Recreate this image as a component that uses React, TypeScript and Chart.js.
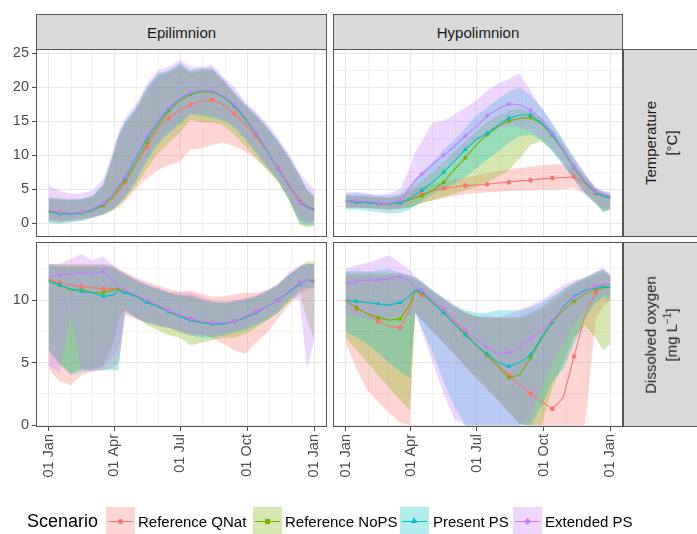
import React, { useEffect, useRef } from "react";
import { Chart, registerables } from "chart.js";

Chart.register(...registerables);

// ---------------- data ----------------
const days = [0, 15, 30, 45, 60, 75, 88, 96, 105, 120, 135, 150, 165, 180, 195, 210, 225, 240, 255, 270, 285, 300, 315, 330, 345, 355, 365];
const markerDays = [15, 45, 75, 105, 135, 165, 195, 225, 255, 285, 315, 345];
const monthStarts = [0, 31, 59, 90, 120, 151, 181, 212, 243, 273, 304, 334, 365];
const dateTicks = [0, 90, 181, 273, 365];
const dateLabels = ["01 Jan", "01 Apr", "01 Jul", "01 Oct", "01 Jan"];
const tempTickVals = [0, 2.5, 5, 7.5, 10, 12.5, 15, 17.5, 20, 22.5, 25];
const oxyTickVals = [0, 2.5, 5, 7.5, 10, 12.5];
const columns = ["Epilimnion", "Hypolimnion"];
const scenarios = ["Reference QNat", "Reference NoPS", "Present PS", "Extended PS"];
const colors = ["#F8766D", "#7CAE00", "#00BFC4", "#C77CFF"];
const shapes = ["circle", "rect", "triangle", "rectRot"];

// Epilimnion temperature
const epiTempQNatMid = [1.8, 1.6, 1.5, 1.6, 1.9, 2.6, 3.6, 4.6, 6.0, 8.7, 11.2, 13.8, 15.5, 16.6, 17.4, 18.0, 18.1, 17.4, 16.1, 14.6, 12.8, 10.6, 8.2, 5.8, 3.3, 2.5, 2.0];
const epiTempQNatLo = [0.5, 0.4, 0.5, 0.7, 1.0, 1.3, 1.8, 2.3, 3.2, 5.0, 6.5, 7.8, 8.5, 9.0, 10.8, 11.0, 11.5, 11.8, 11.3, 10.5, 9.4, 8.0, 6.3, 3.5, 0.5, 0.2, 0.2];
const epiTempQNatHi = [3.6, 3.4, 3.3, 3.4, 3.8, 5.5, 9.5, 12.5, 14.5, 16.5, 19.5, 21.5, 22.0, 23.0, 22.0, 22.3, 22.5, 20.8, 19.0, 17.2, 15.8, 14.0, 12.0, 9.5, 6.8, 4.8, 3.8];
const epiTempNoPSMid = [1.6, 1.4, 1.4, 1.5, 1.8, 2.6, 3.8, 5.0, 6.2, 8.8, 11.8, 14.3, 16.5, 18.0, 18.9, 19.3, 19.3, 18.5, 17.2, 15.3, 13.1, 10.6, 8.0, 5.5, 3.0, 2.3, 1.9];
const epiTempNoPSLo = [0.2, 0.1, 0.3, 0.5, 0.8, 1.2, 1.9, 2.7, 3.5, 5.5, 8.0, 10.2, 11.8, 13.2, 15.2, 14.8, 14.8, 14.4, 13.0, 11.3, 9.6, 7.8, 6.0, 3.3, -0.3, -0.6, -0.5];
const epiTempNoPSHi = [3.7, 3.5, 3.4, 3.5, 3.9, 5.6, 9.8, 12.8, 14.8, 16.8, 19.8, 21.8, 22.3, 23.3, 22.3, 22.6, 22.6, 21.0, 19.1, 17.3, 15.8, 14.0, 12.0, 9.6, 6.8, 4.8, 3.8];
const epiTempPresentMid = [1.7, 1.4, 1.3, 1.5, 1.9, 2.8, 4.2, 5.4, 6.6, 9.5, 12.5, 14.8, 16.8, 18.3, 19.1, 19.5, 19.4, 18.6, 17.3, 15.4, 13.2, 10.7, 8.0, 5.5, 3.0, 2.4, 2.0];
const epiTempPresentLo = [0.0, -0.1, 0.1, 0.3, 0.7, 1.3, 2.0, 2.8, 3.8, 6.2, 9.2, 11.5, 13.2, 14.5, 16.0, 15.8, 15.5, 15.0, 14.0, 12.3, 10.3, 8.3, 6.3, 3.5, 0.0, -0.4, -0.3];
const epiTempPresentHi = [3.8, 3.6, 3.5, 3.6, 4.0, 5.8, 10.0, 13.0, 15.0, 17.0, 20.0, 22.0, 22.5, 23.5, 22.5, 22.8, 22.8, 21.2, 19.3, 17.5, 16.0, 14.2, 12.2, 9.8, 7.0, 5.0, 4.0];
const epiTempExtendedMid = [1.9, 1.6, 1.5, 1.6, 2.0, 2.9, 4.3, 5.5, 6.8, 9.8, 12.8, 15.0, 17.0, 18.4, 19.2, 19.5, 19.5, 18.7, 17.5, 15.6, 13.3, 10.8, 8.1, 5.6, 2.9, 2.2, 1.8];
const epiTempExtendedLo = [0.3, 0.2, 0.3, 0.4, 0.8, 1.4, 2.2, 3.0, 4.0, 6.5, 9.5, 11.8, 13.5, 14.8, 16.2, 16.0, 15.8, 15.3, 14.2, 12.5, 10.5, 8.5, 6.5, 3.8, 0.5, 0.0, 0.2];
const epiTempExtendedHi = [5.5, 4.8, 4.3, 4.3, 4.8, 6.5, 10.5, 13.5, 15.5, 17.5, 20.5, 22.5, 23.0, 24.0, 23.0, 23.0, 23.3, 21.5, 20.0, 17.8, 16.4, 14.6, 12.6, 10.2, 7.4, 6.0, 5.0];

// Hypolimnion temperature
const hypoTempQNatMid = [3.2, 3.1, 3.0, 2.9, 2.8, 3.0, 3.4, 3.8, 4.2, 4.8, 5.1, 5.3, 5.5, 5.6, 5.7, 5.9, 6.0, 6.2, 6.3, 6.5, 6.6, 6.7, 6.8, 5.8, 4.4, 4.0, 3.7];
const hypoTempQNatLo = [2.3, 2.3, 2.2, 2.1, 2.0, 2.1, 2.3, 2.6, 2.9, 3.3, 3.7, 4.0, 4.2, 4.4, 4.5, 4.6, 4.7, 4.8, 4.8, 4.9, 4.9, 5.0, 5.2, 4.2, 2.8, 1.8, 2.0];
const hypoTempQNatHi = [4.0, 4.0, 3.9, 3.8, 3.7, 4.0, 4.5, 5.0, 5.3, 5.8, 6.1, 6.4, 6.7, 7.0, 7.3, 7.6, 7.9, 8.1, 8.3, 8.5, 8.6, 8.7, 8.2, 6.8, 5.0, 4.5, 4.0];
const hypoTempNoPSMid = [3.2, 3.1, 3.0, 2.9, 2.8, 3.0, 3.4, 3.7, 4.0, 4.8, 6.0, 7.9, 9.6, 11.5, 13.0, 14.2, 15.0, 15.4, 15.5, 14.6, 12.9, 10.6, 8.1, 6.0, 4.4, 4.0, 3.7];
const hypoTempNoPSLo = [2.3, 2.3, 2.2, 2.1, 2.0, 2.1, 2.3, 2.6, 3.0, 3.4, 3.8, 4.3, 4.8, 5.3, 6.0, 6.8, 7.8, 9.5, 11.5, 12.0, 10.8, 8.8, 6.5, 4.5, 3.0, 1.8, 2.0];
const hypoTempNoPSHi = [4.0, 4.0, 3.9, 3.8, 3.7, 4.0, 4.8, 5.5, 6.2, 7.5, 9.0, 10.5, 12.0, 13.5, 14.8, 15.8, 16.5, 16.8, 16.5, 15.5, 13.8, 11.5, 9.0, 6.8, 5.0, 4.3, 4.0];
const hypoTempPresentMid = [3.2, 3.1, 3.0, 2.9, 2.8, 3.0, 3.6, 4.2, 4.8, 6.0, 7.5, 9.1, 10.8, 12.3, 13.2, 14.4, 15.4, 15.9, 15.9, 14.8, 13.0, 10.7, 8.2, 6.1, 4.5, 4.0, 3.7];
const hypoTempPresentLo = [2.0, 2.0, 1.8, 1.6, 1.4, 1.5, 2.0, 2.5, 3.2, 4.3, 5.0, 5.8, 6.8, 8.0, 9.3, 10.5, 11.8, 12.8, 13.0, 12.2, 10.5, 8.5, 6.3, 4.3, 2.8, 1.5, 2.0];
const hypoTempPresentHi = [4.3, 4.4, 4.2, 4.0, 4.0, 4.3, 5.5, 6.5, 7.5, 9.0, 10.8, 12.2, 14.0, 15.8, 17.0, 18.2, 19.3, 20.0, 18.8, 17.0, 14.8, 12.2, 9.6, 7.2, 5.2, 4.6, 4.4];
const hypoTempExtendedMid = [3.3, 3.3, 3.2, 3.0, 2.9, 3.3, 5.0, 6.3, 7.2, 8.6, 10.0, 11.3, 12.8, 14.1, 15.8, 16.8, 17.5, 17.4, 16.6, 15.2, 13.2, 10.8, 8.2, 6.2, 4.6, 4.3, 4.0];
const hypoTempExtendedLo = [2.2, 2.3, 2.2, 2.1, 2.0, 2.2, 3.0, 3.8, 4.8, 6.3, 7.8, 9.2, 10.8, 12.0, 13.0, 13.8, 14.3, 14.2, 13.5, 12.5, 10.8, 8.7, 6.5, 4.5, 3.0, 2.2, 2.2];
const hypoTempExtendedHi = [4.5, 4.6, 4.4, 4.2, 4.3, 5.0, 8.0, 10.5, 12.0, 14.8, 15.0, 16.0, 17.0, 18.0, 19.5, 20.5, 21.2, 22.0, 19.5, 16.8, 14.5, 12.0, 9.6, 7.3, 5.2, 4.8, 4.5];

// Epilimnion dissolved oxygen
const epiOxyQNatMid = [11.7, 11.4, 11.2, 11.1, 11.0, 10.9, 10.9, 10.9, 10.7, 10.35, 9.9, 9.6, 9.2, 8.8, 8.5, 8.3, 8.2, 8.2, 8.3, 8.7, 9.1, 9.5, 10.0, 10.7, 11.4, 11.6, 11.6];
const epiOxyQNatLo = [4.5, 3.5, 3.2, 4.0, 4.3, 4.4, 4.6, 5.0, 8.8, 8.5, 8.2, 7.9, 7.8, 7.4, 7.2, 7.3, 7.0, 6.5, 6.0, 5.7, 6.6, 7.4, 8.5, 9.6, 10.5, 10.8, 11.0];
const epiOxyQNatHi = [12.9, 12.9, 12.9, 12.9, 12.9, 12.9, 12.8, 12.5, 12.2, 11.8, 11.5, 11.2, 10.9, 10.7, 10.8, 10.5, 10.3, 10.3, 10.5, 10.6, 10.6, 10.8, 11.3, 12.1, 12.7, 12.9, 12.9];
const epiOxyNoPSMid = [11.6, 11.2, 10.8, 10.8, 10.6, 10.6, 10.8, 10.9, 10.7, 10.3, 9.9, 9.5, 9.1, 8.7, 8.4, 8.2, 8.1, 8.1, 8.3, 8.6, 9.0, 9.5, 10.0, 10.7, 11.3, 11.6, 11.5];
const epiOxyNoPSLo = [6.0, 4.8, 4.2, 4.5, 4.5, 4.8, 6.5, 8.5, 9.2, 8.6, 8.0, 7.6, 7.2, 7.0, 6.4, 6.6, 6.8, 7.0, 7.0, 7.3, 7.8, 8.4, 9.0, 9.8, 10.6, 8.5, 6.8];
const epiOxyNoPSHi = [12.8, 12.8, 12.8, 12.8, 12.8, 12.8, 12.7, 12.4, 12.1, 11.6, 11.2, 10.9, 10.6, 10.4, 10.4, 10.1, 9.9, 9.8, 9.9, 10.1, 10.3, 10.7, 11.2, 12.0, 12.7, 13.1, 13.1];
const epiOxyPresentMid = [11.5, 11.2, 10.9, 10.7, 10.6, 10.3, 10.4, 10.8, 10.6, 10.3, 9.8, 9.5, 9.1, 8.7, 8.4, 8.2, 8.1, 8.1, 8.3, 8.6, 9.0, 9.5, 10.0, 10.6, 11.3, 11.6, 11.5];
const epiOxyPresentLo = [6.0, 5.0, 4.0, 4.3, 4.4, 4.4, 4.4, 4.4, 9.2, 8.6, 8.2, 8.0, 7.8, 7.5, 7.2, 7.0, 7.0, 7.2, 7.4, 7.6, 8.0, 8.4, 9.0, 10.0, 10.8, 11.0, 11.0];
const epiOxyPresentHi = [12.8, 12.7, 12.7, 12.7, 12.7, 12.7, 12.6, 12.3, 12.0, 11.6, 11.2, 10.9, 10.6, 10.4, 10.3, 10.0, 9.8, 9.8, 9.9, 10.0, 10.3, 10.7, 11.2, 12.0, 12.6, 12.9, 12.9];
const epiOxyExtendedMid = [11.9, 12.0, 12.1, 12.2, 12.1, 12.3, 11.6, 11.2, 10.8, 10.4, 10.0, 9.6, 9.2, 8.8, 8.5, 8.3, 8.2, 8.2, 8.3, 8.7, 9.1, 9.5, 10.0, 10.7, 11.4, 11.6, 11.4];
const epiOxyExtendedLo = [4.8, 4.2, 9.0, 4.5, 4.3, 4.6, 5.5, 6.0, 9.0, 8.6, 8.2, 8.0, 7.8, 7.6, 7.3, 7.2, 7.2, 7.3, 7.5, 7.8, 8.2, 8.6, 9.2, 10.2, 10.0, 4.5, 6.8];
const epiOxyExtendedHi = [12.9, 12.9, 13.3, 13.7, 13.2, 13.5, 12.8, 12.5, 12.2, 11.7, 11.3, 11.0, 10.7, 10.6, 10.6, 10.3, 10.0, 9.9, 10.0, 10.2, 10.4, 10.8, 11.3, 12.2, 12.8, 12.9, 12.9];

// Hypolimnion dissolved oxygen
const hypoOxyQNatMid = [10.0, 9.3, 8.9, 8.3, 7.9, 7.8, 9.2, 10.8, 10.4, 9.9, 9.3, 8.3, 7.4, 6.4, 5.6, 4.8, 4.0, 3.2, 2.5, 1.9, 1.3, 2.2, 5.5, 8.8, 10.6, 11.0, 11.0];
const hypoOxyQNatLo = [6.6, 4.5, 2.8, 1.8, 1.0, 0.2, 0.0, 9.2, 8.4, 7.5, 6.6, 5.7, 4.7, 3.8, 2.9, 2.0, 1.0, 0.1, 0.0, 0.0, 0.0, 0.0, 0.0, 0.0, 8.5, 9.5, 10.0];
const hypoOxyQNatHi = [12.0, 12.0, 12.0, 12.0, 12.0, 12.0, 11.8, 11.6, 11.3, 10.6, 10.0, 9.4, 9.0, 8.7, 8.6, 8.6, 8.6, 8.6, 8.8, 9.2, 9.8, 10.5, 11.2, 11.6, 12.0, 12.2, 11.8];
const hypoOxyNoPSMid = [10.0, 9.4, 8.9, 8.6, 8.4, 8.5, 9.6, 10.8, 10.6, 9.8, 9.0, 8.1, 7.3, 6.4, 5.6, 4.7, 3.8, 4.0, 5.4, 6.9, 8.2, 9.2, 9.9, 10.5, 10.9, 11.0, 11.0];
const hypoOxyNoPSLo = [7.0, 6.0, 5.0, 4.0, 3.0, 2.0, 1.2, 9.0, 8.4, 7.5, 6.6, 5.7, 4.7, 3.8, 2.9, 2.0, 1.0, 0.1, 0.0, 0.0, 3.0, 5.0, 7.0, 8.0, 7.0, 6.0, 6.5];
const hypoOxyNoPSHi = [12.2, 12.2, 12.2, 12.2, 12.2, 12.2, 12.0, 11.8, 11.4, 10.7, 10.1, 9.5, 9.0, 8.7, 8.6, 8.6, 8.6, 8.7, 9.0, 9.5, 10.1, 10.8, 11.4, 11.8, 12.2, 12.4, 12.0];
const hypoOxyPresentMid = [10.0, 9.9, 9.8, 9.7, 9.6, 9.8, 10.3, 10.8, 10.7, 9.8, 9.0, 8.1, 7.2, 6.4, 5.7, 5.0, 4.7, 5.0, 5.6, 7.0, 8.3, 9.5, 10.3, 10.8, 11.0, 11.1, 11.0];
const hypoOxyPresentLo = [7.5, 7.0, 6.5, 5.8, 5.0, 4.3, 3.8, 9.0, 7.8, 5.8, 3.5, 1.5, 0.0, 0.0, 0.0, 0.0, 0.0, 0.0, 0.0, 1.5, 3.5, 4.5, 6.5, 8.5, 9.8, 10.2, 10.0];
const hypoOxyPresentHi = [12.3, 12.4, 12.3, 12.4, 12.5, 12.2, 12.0, 11.8, 11.5, 10.8, 10.2, 9.6, 9.2, 9.0, 9.0, 9.2, 9.2, 9.2, 9.4, 9.8, 10.3, 10.9, 11.4, 11.8, 12.2, 12.5, 12.0];
const hypoOxyExtendedMid = [11.3, 11.5, 11.6, 11.6, 11.7, 11.9, 11.5, 11.0, 10.8, 10.0, 9.3, 8.4, 7.6, 6.9, 6.2, 5.7, 5.8, 6.3, 6.9, 7.5, 8.4, 9.4, 10.2, 10.7, 11.1, 11.3, 11.2];
const hypoOxyExtendedLo = [8.8, 8.6, 8.5, 8.4, 8.6, 8.8, 8.8, 9.0, 7.5, 5.0, 2.5, 0.5, 0.0, 0.0, 0.0, 0.0, 0.0, 0.0, 0.5, 3.0, 5.0, 6.5, 8.0, 9.2, 10.0, 10.5, 10.3];
const hypoOxyExtendedHi = [12.5, 12.8, 13.0, 13.3, 13.6, 13.0, 12.4, 12.0, 11.5, 10.8, 10.2, 9.6, 9.0, 8.7, 8.8, 8.6, 8.9, 9.2, 9.6, 10.0, 10.6, 11.2, 11.6, 11.8, 12.3, 12.6, 12.0];

// ---------------- panels ----------------
type Band = { lo: number[]; mid: number[]; hi: number[] };
type PanelDef = { row: "temp" | "oxy"; col: "epi" | "hypo"; bands: Band[] };

const panels: PanelDef[] = [
  {
    row: "temp", col: "epi", bands: [
      { lo: epiTempQNatLo, mid: epiTempQNatMid, hi: epiTempQNatHi },
      { lo: epiTempNoPSLo, mid: epiTempNoPSMid, hi: epiTempNoPSHi },
      { lo: epiTempPresentLo, mid: epiTempPresentMid, hi: epiTempPresentHi },
      { lo: epiTempExtendedLo, mid: epiTempExtendedMid, hi: epiTempExtendedHi },
    ],
  },
  {
    row: "temp", col: "hypo", bands: [
      { lo: hypoTempQNatLo, mid: hypoTempQNatMid, hi: hypoTempQNatHi },
      { lo: hypoTempNoPSLo, mid: hypoTempNoPSMid, hi: hypoTempNoPSHi },
      { lo: hypoTempPresentLo, mid: hypoTempPresentMid, hi: hypoTempPresentHi },
      { lo: hypoTempExtendedLo, mid: hypoTempExtendedMid, hi: hypoTempExtendedHi },
    ],
  },
  {
    row: "oxy", col: "epi", bands: [
      { lo: epiOxyQNatLo, mid: epiOxyQNatMid, hi: epiOxyQNatHi },
      { lo: epiOxyNoPSLo, mid: epiOxyNoPSMid, hi: epiOxyNoPSHi },
      { lo: epiOxyPresentLo, mid: epiOxyPresentMid, hi: epiOxyPresentHi },
      { lo: epiOxyExtendedLo, mid: epiOxyExtendedMid, hi: epiOxyExtendedHi },
    ],
  },
  {
    row: "oxy", col: "hypo", bands: [
      { lo: hypoOxyQNatLo, mid: hypoOxyQNatMid, hi: hypoOxyQNatHi },
      { lo: hypoOxyNoPSLo, mid: hypoOxyNoPSMid, hi: hypoOxyNoPSHi },
      { lo: hypoOxyPresentLo, mid: hypoOxyPresentMid, hi: hypoOxyPresentHi },
      { lo: hypoOxyExtendedLo, mid: hypoOxyExtendedMid, hi: hypoOxyExtendedHi },
    ],
  },
];

// ---------------- layout ----------------
const W = 697;
const H = 534;
const COL_X = { epi: [36, 327], hypo: [333, 623] };
const ROW_Y = { temp: [49, 237], oxy: [242, 427] };
const Y_RANGE = { temp: [-2.05, 25.6], oxy: [-0.15, 14.65] };
const X_RANGE = [-17.5, 382.5];
const FONT = '"Liberation Sans", Arial, Helvetica, sans-serif';
const AXIS_TEXT = "#4D4D4D";

function rgba(hex: string, a: number) {
  const n = parseInt(hex.slice(1), 16);
  return `rgba(${(n >> 16) & 255},${(n >> 8) & 255},${n & 255},${a})`;
}

const borderPlugin = {
  id: "panelBorder",
  afterDraw(chart: any) {
    const { ctx, chartArea: a } = chart;
    ctx.save();
    ctx.strokeStyle = "#555555";
    ctx.lineWidth = 1;
    ctx.strokeRect(a.left + 0.5, a.top + 0.5, a.right - a.left - 1, a.bottom - a.top - 1);
    ctx.restore();
  },
};

function buildConfig(p: PanelDef): any {
  const [xl, xr] = COL_X[p.col];
  const [yt, yb] = ROW_Y[p.row];
  const showY = p.col === "epi";
  const showX = p.row === "oxy";
  const yAxisW = showY ? 36 : 0;
  const xAxisH = showX ? 56 : 0;
  const yTicks = p.row === "temp" ? tempTickVals : oxyTickVals;
  const order = [3, 2, 1, 0];
  const datasets: any[] = [];
  for (const s of order) {
    const b = p.bands[s];
    datasets.push({
      data: b.hi.map((v, i) => ({ x: days[i], y: v })),
      fill: "+1",
      backgroundColor: rgba(colors[s], 0.3),
      borderColor: "rgba(0,0,0,0)",
      borderWidth: 0,
      pointRadius: 0,
      tension: 0,
    });
    datasets.push({
      data: b.lo.map((v, i) => ({ x: days[i], y: v })),
      fill: false,
      borderColor: "rgba(0,0,0,0)",
      borderWidth: 0,
      pointRadius: 0,
      tension: 0,
    });
  }
  for (const s of order) {
    const b = p.bands[s];
    datasets.push({
      data: b.mid.map((v, i) => ({ x: days[i], y: v })),
      fill: false,
      borderColor: colors[s],
      borderWidth: 1.1,
      tension: 0,
      pointStyle: shapes[s],
      pointRadius: (ctx: any) =>
        markerDays.includes(days[ctx.dataIndex]) ? (shapes[s] === "triangle" ? 2.9 : 2.4) : 0,
      pointBackgroundColor: colors[s],
      pointBorderColor: colors[s],
      pointBorderWidth: 0,
    });
  }
  const isMajorX = (v: number) => dateTicks.includes(v);
  const isMajorY = (v: number) => Math.abs(v % 5) < 1e-9;
  return {
    type: "line",
    data: { datasets },
    plugins: [borderPlugin],
    options: {
      animation: false,
      responsive: false,
      devicePixelRatio: 1,
      events: [],
      layout: {
        autoPadding: false,
        padding: { left: xl - yAxisW, top: yt, right: W - xr, bottom: H - yb - xAxisH },
      },
      plugins: {
        legend: { display: false },
        tooltip: { enabled: false },
        filler: { drawTime: "beforeDatasetsDraw" },
      },
      scales: {
        x: {
          type: "linear",
          min: X_RANGE[0],
          max: X_RANGE[1],
          afterBuildTicks: (s: any) => {
            s.ticks = monthStarts.map((v) => ({ value: v }));
          },
          afterFit: (s: any) => {
            s.height = xAxisH;
          },
          ticks: {
            display: showX,
            autoSkip: false,
            minRotation: 90,
            maxRotation: 90,
            padding: 3,
            color: AXIS_TEXT,
            font: { family: FONT, size: 14.5 },
            callback: (v: number) => {
              const i = dateTicks.indexOf(v);
              return i >= 0 ? dateLabels[i] : "";
            },
          },
          grid: {
            color: (c: any) => (isMajorX(c.tick?.value) ? "#E8E8E8" : "#F2F2F2"),
            lineWidth: 1,
            drawTicks: showX,
            tickLength: 4,
            tickColor: (c: any) => (isMajorX(c.tick?.value) ? "#4D4D4D" : "rgba(0,0,0,0)"),
          },
          border: { display: false },
        },
        y: {
          type: "linear",
          min: Y_RANGE[p.row][0],
          max: Y_RANGE[p.row][1],
          afterBuildTicks: (s: any) => {
            s.ticks = yTicks.map((v) => ({ value: v }));
          },
          afterFit: (s: any) => {
            s.width = yAxisW;
          },
          ticks: {
            display: showY,
            padding: 3,
            color: AXIS_TEXT,
            font: { family: FONT, size: 14.5 },
            callback: (v: number) => (isMajorY(v) ? String(v) : ""),
          },
          grid: {
            color: (c: any) => (isMajorY(c.tick?.value) ? "#E8E8E8" : "#F2F2F2"),
            lineWidth: 1,
            drawTicks: showY,
            tickLength: 4,
            tickColor: (c: any) => (isMajorY(c.tick?.value) ? "#4D4D4D" : "rgba(0,0,0,0)"),
          },
          border: { display: false },
        },
      },
    },
  };
}

// ---------------- components ----------------
const stripBase: React.CSSProperties = {
  position: "absolute",
  boxSizing: "border-box",
  background: "#D9D9D9",
  border: "1px solid #555555",
  color: "#1A1A1A",
  fontSize: 15,
  display: "flex",
  alignItems: "center",
  justifyContent: "center",
};

const legendKeyX = [106, 253, 400, 513];
const legendTextX = [138, 285, 433, 545];

function Marker({ shape, color }: { shape: string; color: string }) {
  const base: React.CSSProperties = { position: "absolute", left: "50%", top: "50%" };
  if (shape === "circle")
    return <div style={{ ...base, width: 5, height: 5, marginLeft: -2.5, marginTop: -2.5, borderRadius: "50%", background: color }} />;
  if (shape === "rect")
    return <div style={{ ...base, width: 5, height: 5, marginLeft: -2.5, marginTop: -2.5, background: color }} />;
  if (shape === "triangle")
    return (
      <div
        style={{
          ...base, width: 0, height: 0, marginLeft: -3.5, marginTop: -4,
          borderLeft: "3.5px solid transparent", borderRight: "3.5px solid transparent", borderBottom: `6px solid ${color}`,
        }}
      />
    );
  return <div style={{ ...base, width: 5, height: 5, marginLeft: -2.5, marginTop: -2.5, background: color, transform: "rotate(45deg)" }} />;
}

export default function App() {
  const r0 = useRef<HTMLCanvasElement>(null);
  const r1 = useRef<HTMLCanvasElement>(null);
  const r2 = useRef<HTMLCanvasElement>(null);
  const r3 = useRef<HTMLCanvasElement>(null);
  const refs = [r0, r1, r2, r3];

  useEffect(() => {
    const charts = panels.map((p, i) => new Chart(refs[i].current as HTMLCanvasElement, buildConfig(p)));
    return () => charts.forEach((c) => c.destroy());
  }, []);

  return (
    <div
      style={{
        position: "absolute", left: 0, top: 0, width: W, height: H, overflow: "hidden",
        background: "#FFFFFF", fontFamily: FONT,
      }}
    >
      {refs.map((r, i) => (
        <canvas key={i} ref={r} width={W} height={H} style={{ position: "absolute", left: 0, top: 0, width: W, height: H }} />
      ))}

      {/* top strips */}
      <div style={{ ...stripBase, left: COL_X.epi[0], top: 14, width: COL_X.epi[1] - COL_X.epi[0], height: 36 }}>{columns[0]}</div>
      <div style={{ ...stripBase, left: COL_X.hypo[0], top: 14, width: COL_X.hypo[1] - COL_X.hypo[0], height: 36 }}>{columns[1]}</div>

      {/* right strips */}
      <div style={{ ...stripBase, left: 623, top: ROW_Y.temp[0], width: 90, height: ROW_Y.temp[1] - ROW_Y.temp[0], justifyContent: "flex-start" }}>
        <div style={{ width: 74, display: "flex", justifyContent: "center" }}>
          <div style={{ transform: "rotate(-90deg)", whiteSpace: "nowrap", textAlign: "center", lineHeight: "21px" }}>
            Temperature<br />[°C]
          </div>
        </div>
      </div>
      <div style={{ ...stripBase, left: 623, top: ROW_Y.oxy[0], width: 90, height: ROW_Y.oxy[1] - ROW_Y.oxy[0], justifyContent: "flex-start" }}>
        <div style={{ width: 74, display: "flex", justifyContent: "center" }}>
          <div style={{ transform: "rotate(-90deg)", whiteSpace: "nowrap", textAlign: "center", lineHeight: "21px" }}>
            Dissolved oxygen<br />[mg L<sup style={{ fontSize: 10, verticalAlign: "6px", lineHeight: 0 }}>−1</sup>]
          </div>
        </div>
      </div>

      {/* legend */}
      <div style={{ position: "absolute", left: 27, top: 507, height: 28, display: "flex", alignItems: "center", fontSize: 18, color: "#000" }}>
        Scenario
      </div>
      {scenarios.map((name, s) => (
        <React.Fragment key={name}>
          <div
            style={{
              position: "absolute", left: legendKeyX[s], top: 507, width: 29, height: 28,
              background: rgba(colors[s], 0.3),
            }}
          >
            <div style={{ position: "absolute", left: 2, right: 2, top: 13.5, height: 1.2, background: colors[s] }} />
            <Marker shape={shapes[s]} color={colors[s]} />
          </div>
          <div
            style={{
              position: "absolute", left: legendTextX[s], top: 507, height: 28, display: "flex",
              alignItems: "center", fontSize: 15, color: "#000", whiteSpace: "nowrap",
            }}
          >
            {name}
          </div>
        </React.Fragment>
      ))}
    </div>
  );
}
